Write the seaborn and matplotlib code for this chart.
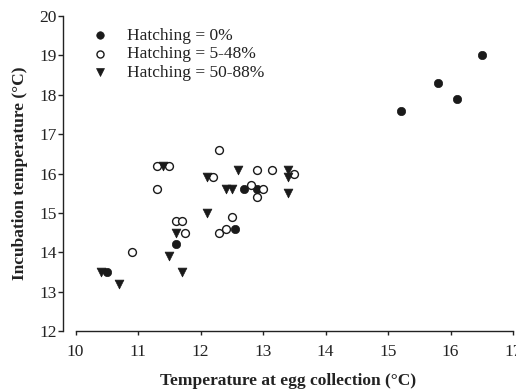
import matplotlib
matplotlib.use("Agg")
import matplotlib.pyplot as plt
import seaborn as sns
import pandas as pd

# Hatching = 0%
x_h0 = [10.5, 11.6, 12.55, 12.7, 12.9, 15.2, 15.8, 16.1, 16.5]
y_h0 = [13.5, 14.2, 14.6, 15.6, 15.6, 17.6, 18.3, 17.9, 19.0]
# Hatching = 5-48%
x_h5 = [10.9, 11.3, 11.5, 11.3, 11.6, 11.7, 11.75, 12.2, 12.3, 12.3, 12.4, 12.5,
        12.8, 12.9, 13.15, 13.0, 12.9, 13.5]
y_h5 = [14.0, 16.2, 16.2, 15.6, 14.8, 14.8, 14.5, 15.9, 16.6, 14.5, 14.6, 14.9,
        15.7, 16.1, 16.1, 15.6, 15.4, 16.0]
# Hatching = 50-88%
x_h50 = [10.4, 10.7, 11.4, 11.5, 11.6, 11.7, 12.1, 12.1, 12.4, 12.5, 12.6, 13.4, 13.4, 13.4]
y_h50 = [13.5, 13.2, 16.2, 13.9, 14.5, 13.5, 15.9, 15.0, 15.6, 15.6, 16.1, 16.1, 15.9, 15.5]

labels = ["Hatching = 0%", "Hatching = 5-48%", "Hatching = 50-88%"]
x_ticks = [10, 11, 12, 13, 14, 15, 16, 17]
y_ticks = [12, 13, 14, 15, 16, 17, 18, 19, 20]

sns.set_style("ticks")
plt.rcParams["font.family"] = ["Liberation Serif", "DejaVu Serif"]
plt.rcParams["mathtext.fontset"] = "stix"

fig = plt.figure(figsize=(5.16, 3.90), dpi=100)
ax = fig.add_axes([63 / 516, 1 - 331 / 390, 450 / 516, 315 / 390])

df0 = pd.DataFrame({"x": x_h0, "y": y_h0})
df5 = pd.DataFrame({"x": x_h5, "y": y_h5})
df50 = pd.DataFrame({"x": x_h50, "y": y_h50})

sns.scatterplot(data=df0, x="x", y="y", ax=ax, marker="o", s=36, color="#1a1a1a",
                edgecolor="#1a1a1a", linewidth=0.5, label=labels[0], zorder=3)
sns.scatterplot(data=df5, x="x", y="y", ax=ax, marker="o", s=32, facecolor="white",
                edgecolor="#1a1a1a", linewidth=1.0, label=labels[1], zorder=3)
sns.scatterplot(data=df50, x="x", y="y", ax=ax, marker="v", s=40, color="#1a1a1a",
                edgecolor="#1a1a1a", linewidth=0.5, label=labels[2], zorder=3)

ax.set_xlim(9.8, 17)
ax.set_ylim(12, 20)
ax.set_xticks(x_ticks)
ax.set_yticks(y_ticks)
ax.tick_params(axis="both", direction="out", width=1, labelsize=12.5, colors="#222222")
ax.tick_params(axis="x", length=3, pad=6)
ax.tick_params(axis="y", length=3.5, pad=1)
for s in ["top", "right"]:
    ax.spines[s].set_visible(False)
for s in ["left", "bottom"]:
    ax.spines[s].set_linewidth(1)
    ax.spines[s].set_color("#222222")
ax.spines["bottom"].set_bounds(10, 17)

ax.set_xlabel("Temperature at egg collection (°C)", fontsize=12.5, fontweight="bold",
              color="#222222", labelpad=9.5)
ax.set_ylabel("Incubation temperature (°C)", fontsize=12.5, fontweight="bold",
              color="#222222", labelpad=8)

leg = ax.legend(loc="upper left", bbox_to_anchor=(0.047, 0.986), frameon=False,
                fontsize=12.5, handlelength=1.0, handletextpad=1.05,
                labelspacing=0.15, borderaxespad=0, markerscale=0.9)
for t in leg.get_texts():
    t.set_color("#222222")

fig.savefig("out.png", dpi=100)
